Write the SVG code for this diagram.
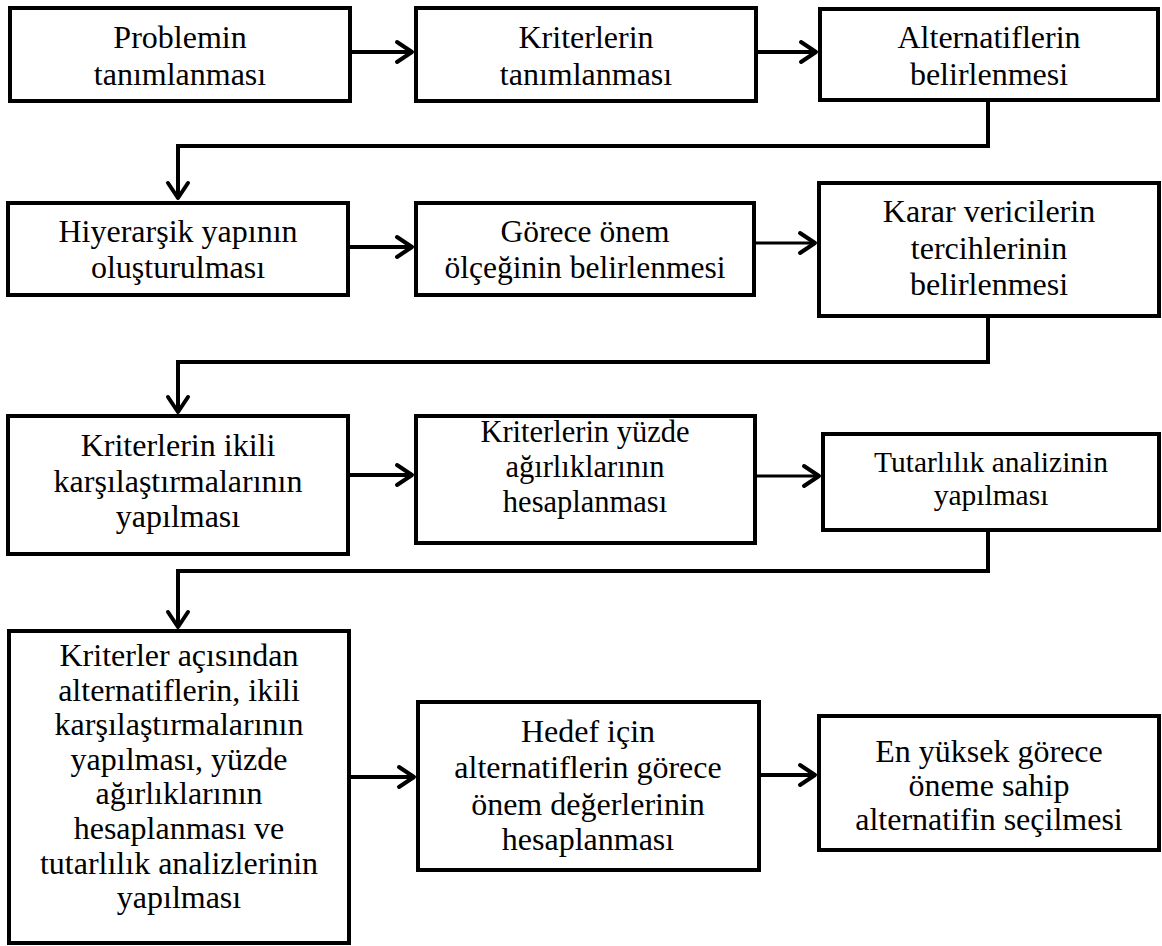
<svg xmlns="http://www.w3.org/2000/svg" width="1162" height="946" viewBox="0 0 1162 946">
<style>
.box{fill:#fff;stroke:#000;stroke-width:4}
.t{font-family:'Liberation Serif','Times New Roman',serif;font-size:32px;fill:#000;text-anchor:middle}
.s305{font-size:30.5px}
.s295{font-size:29.5px}
.s315{font-size:31.5px}
.c{fill:none;stroke:#000;stroke-width:4;stroke-linejoin:miter}
.thin{stroke-width:3}
</style>
<defs>
<marker id="ah" markerUnits="userSpaceOnUse" viewBox="-20 -14 24 28" markerWidth="24" markerHeight="28" refX="0" refY="0" orient="auto" overflow="visible">
<path d="M-15,-10 L0,0 L-15,10" fill="none" stroke="#000" stroke-width="4" stroke-linejoin="round" stroke-linecap="round"/>
</marker>
</defs>
<rect width="1162" height="946" fill="#fff"/>
<g id="connectors">
<path class="c" d="M350,52 H412" marker-end="url(#ah)"/>
<path class="c" d="M756,52 H816" marker-end="url(#ah)"/>
<path class="c" d="M988,101 V146 H178 V198" marker-end="url(#ah)"/>
<path class="c" d="M348,247 H412" marker-end="url(#ah)"/>
<path class="c thin" d="M754,243 H815" marker-end="url(#ah)"/>
<path class="c" d="M988,316 V362 H178 V412" marker-end="url(#ah)"/>
<path class="c" d="M348,475 H412" marker-end="url(#ah)"/>
<path class="c thin" d="M755,476 H819" marker-end="url(#ah)"/>
<path class="c" d="M988,530 V571 H178 V627" marker-end="url(#ah)"/>
<path class="c" d="M349,777 H414" marker-end="url(#ah)"/>
<path class="c" d="M759,775 H815" marker-end="url(#ah)"/>
</g>
<g id="n1"><rect class="box" x="10" y="8" width="340" height="93"/>
<text class="t" x="180" y="48">Problemin</text><text class="t" x="180" y="85">tanımlanması</text></g>
<g id="n2"><rect class="box" x="416" y="8" width="340" height="93"/>
<text class="t" x="586" y="48">Kriterlerin</text><text class="t" x="586" y="85">tanımlanması</text></g>
<g id="n3"><rect class="box" x="820" y="9" width="338" height="91"/>
<text class="t" x="989" y="48">Alternatiflerin</text><text class="t" x="989" y="85">belirlenmesi</text></g>
<g id="n4"><rect class="box" x="8" y="203" width="340" height="92"/>
<text class="t" x="178" y="242">Hiyerarşik yapının</text><text class="t" x="178" y="278">oluşturulması</text></g>
<g id="n5"><rect class="box" x="416" y="203" width="338" height="92"/>
<text class="t s315" x="585" y="242">Görece önem</text><text class="t s315" x="585" y="278">ölçeğinin belirlenmesi</text></g>
<g id="n6"><rect class="box" x="819" y="183" width="340" height="133"/>
<text class="t" x="989" y="222">Karar vericilerin</text><text class="t" x="989" y="259">tercihlerinin</text><text class="t" x="989" y="295">belirlenmesi</text></g>
<g id="n7"><rect class="box" x="8" y="416" width="340" height="138"/>
<text class="t" x="178" y="456">Kriterlerin ikili</text><text class="t" x="178" y="492">karşılaştırmalarının</text><text class="t" x="178" y="527">yapılması</text></g>
<g id="n8"><rect class="box" x="416" y="416" width="339" height="127"/>
<text class="t s305" x="585" y="442">Kriterlerin yüzde</text><text class="t s305" x="585" y="477">ağırlıklarının</text><text class="t s305" x="585" y="512">hesaplanması</text></g>
<g id="n9"><rect class="box" x="823" y="434" width="336" height="96"/>
<text class="t s295" x="991" y="472">Tutarlılık analizinin</text><text class="t s295" x="991" y="505">yapılması</text></g>
<g id="n10"><rect class="box" x="9" y="631" width="340" height="312"/>
<text class="t" x="179" y="666">Kriterler açısından</text>
<text class="t" x="179" y="701">alternatiflerin, ikili</text>
<text class="t" x="179" y="735">karşılaştırmalarının</text>
<text class="t" x="179" y="770">yapılması, yüzde</text>
<text class="t" x="179" y="804">ağırlıklarının</text>
<text class="t" x="179" y="839">hesaplanması ve</text>
<text class="t" x="179" y="874">tutarlılık analizlerinin</text>
<text class="t" x="179" y="908">yapılması</text></g>
<g id="n11"><rect class="box" x="418" y="702" width="341" height="168"/>
<text class="t" x="588" y="742">Hedef için</text><text class="t" x="588" y="778">alternatiflerin görece</text><text class="t" x="588" y="815">önem değerlerinin</text><text class="t" x="588" y="850">hesaplanması</text></g>
<g id="n12"><rect class="box" x="819" y="716" width="340" height="134"/>
<text class="t" x="989" y="762">En yüksek görece</text><text class="t" x="989" y="796">öneme sahip</text><text class="t" x="989" y="830">alternatifin seçilmesi</text></g>
</svg>
